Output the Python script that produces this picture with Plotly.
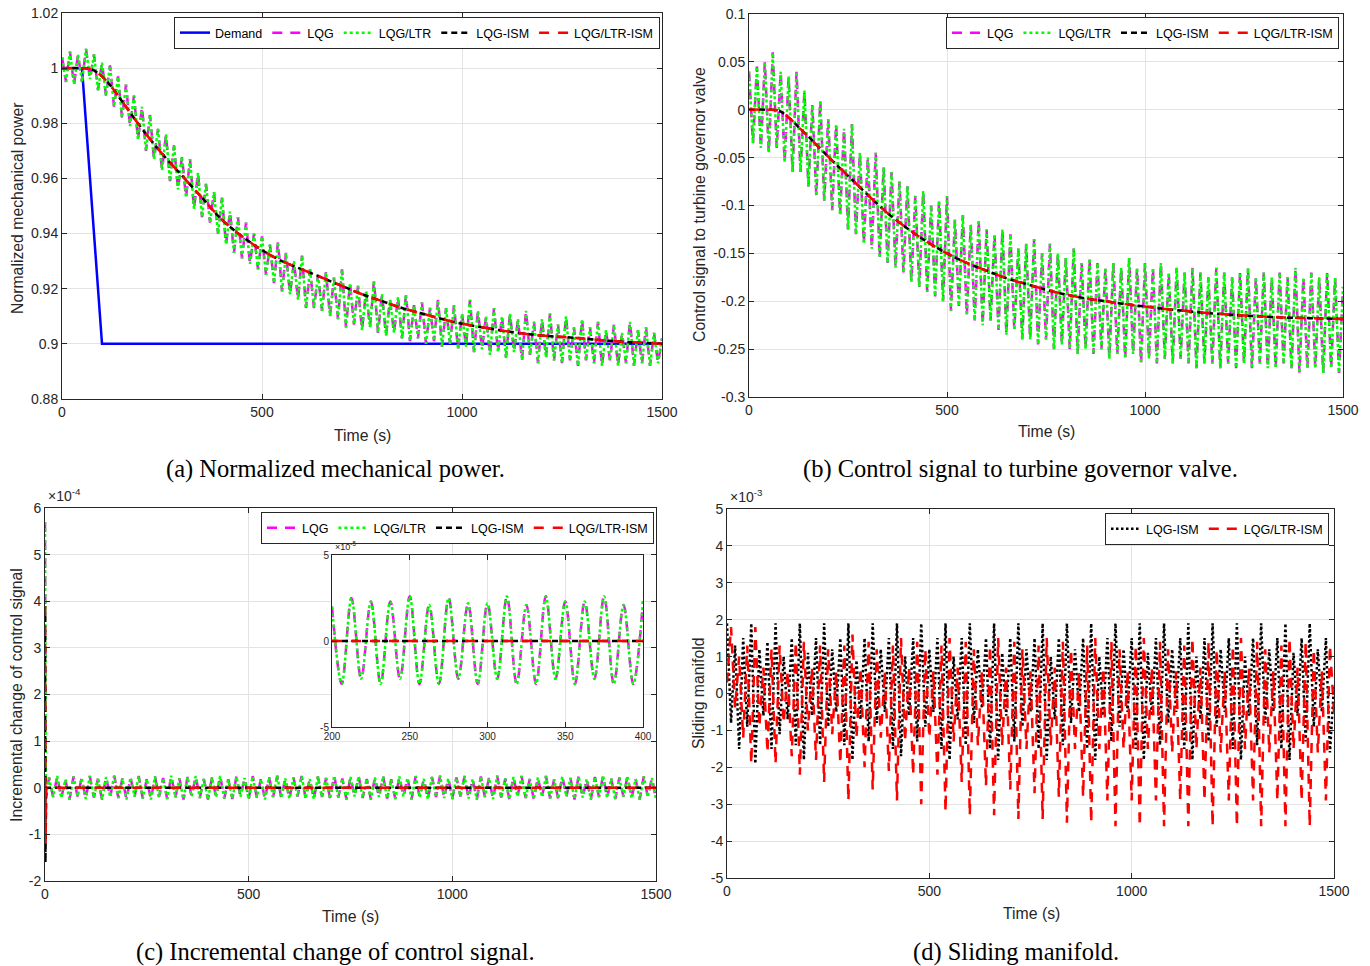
import plotly.graph_objects as go

# ---------------- data ----------------
t_step = 10
t10 = list(range(0, 1501, t_step))

demand_t = [0, 50, 100, 1500]
demand_v = [1.0, 1.0, 0.9, 0.9]

t_ism = [0, 50, 75, 100, 125, 150, 200, 250, 300, 350, 400, 450, 500, 550, 600, 650, 700,
         750, 800, 850, 900, 950, 1000, 1050, 1100, 1150, 1200, 1250, 1300, 1350, 1400, 1450, 1500]

ism_a = [1.000, 1.000, 0.9995, 0.997, 0.993, 0.988, 0.978, 0.969, 0.961, 0.953, 0.945, 0.939,
         0.934, 0.930, 0.927, 0.924, 0.921, 0.918, 0.9155, 0.913, 0.911, 0.909, 0.9073, 0.906,
         0.9048, 0.9038, 0.903, 0.9025, 0.902, 0.9013, 0.9008, 0.9004, 0.900]

lqg_a = [1.004, 0.995, 1.006, 0.994, 1.005, 0.995, 1.007, 0.996, 1.005, 0.992,
         1.002, 0.990, 1.001, 0.986, 0.997, 0.982, 0.994, 0.979, 0.990, 0.974,
         0.986, 0.970, 0.983, 0.967, 0.978, 0.963, 0.976, 0.959, 0.972, 0.956,
         0.968, 0.953, 0.967, 0.949, 0.962, 0.946, 0.958, 0.944, 0.955, 0.940,
         0.953, 0.936, 0.948, 0.933, 0.946, 0.931, 0.944, 0.929, 0.940, 0.927,
         0.939, 0.925, 0.936, 0.922, 0.937, 0.919, 0.933, 0.918, 0.930, 0.916,
         0.932, 0.913, 0.927, 0.913, 0.925, 0.912, 0.926, 0.910, 0.924, 0.909,
         0.927, 0.906, 0.922, 0.907, 0.921, 0.905, 0.919, 0.906, 0.923, 0.904,
         0.918, 0.903, 0.916, 0.904, 0.917, 0.902, 0.918, 0.901, 0.914, 0.902,
         0.915, 0.900, 0.913, 0.901, 0.916, 0.899, 0.913, 0.900, 0.914, 0.898,
         0.911, 0.899, 0.916, 0.897, 0.912, 0.898, 0.910, 0.896, 0.913, 0.897,
         0.910, 0.895, 0.911, 0.897, 0.909, 0.894, 0.912, 0.896, 0.908, 0.893,
         0.909, 0.895, 0.911, 0.894, 0.907, 0.893, 0.910, 0.894, 0.906, 0.892,
         0.909, 0.894, 0.906, 0.893, 0.908, 0.892, 0.905, 0.894, 0.907, 0.892,
         0.904, 0.893, 0.908, 0.892, 0.905, 0.893, 0.906, 0.892, 0.904, 0.893,
         0.902]
ltr_a = lqg_a  # LQG/LTR overlays LQG in the figure

ism_b = [0.0, 0.0, -0.001, -0.008, -0.018, -0.028, -0.049, -0.069, -0.089, -0.108, -0.124,
         -0.138, -0.150, -0.160, -0.168, -0.176, -0.182, -0.188, -0.193, -0.197, -0.200,
         -0.203, -0.2055, -0.208, -0.210, -0.212, -0.2135, -0.215, -0.216, -0.217, -0.2175,
         -0.218, -0.2185]

lqg_b = [0.040, -0.035, 0.045, -0.040, 0.050, -0.045, 0.060, -0.040, 0.040, -0.055,
         0.035, -0.065, 0.040, -0.065, 0.020, -0.080, 0.005, -0.090, 0.010, -0.095,
         -0.010, -0.105, -0.015, -0.110, -0.020, -0.125, -0.015, -0.130, -0.045, -0.140,
         -0.050, -0.145, -0.045, -0.155, -0.060, -0.160, -0.065, -0.165, -0.075, -0.170,
         -0.080, -0.180, -0.090, -0.185, -0.085, -0.190, -0.100, -0.195, -0.095, -0.200,
         -0.090, -0.210, -0.115, -0.205, -0.110, -0.215, -0.120, -0.220, -0.115, -0.225,
         -0.125, -0.220, -0.130, -0.230, -0.125, -0.235, -0.130, -0.230, -0.145, -0.240,
         -0.140, -0.240, -0.135, -0.245, -0.150, -0.240, -0.140, -0.250, -0.150, -0.245,
         -0.155, -0.250, -0.145, -0.255, -0.160, -0.250, -0.155, -0.255, -0.160, -0.250,
         -0.165, -0.260, -0.160, -0.255, -0.165, -0.260, -0.155, -0.255, -0.165, -0.265,
         -0.160, -0.260, -0.165, -0.265, -0.160, -0.260, -0.170, -0.265, -0.165, -0.260,
         -0.170, -0.265, -0.165, -0.270, -0.170, -0.265, -0.175, -0.265, -0.165, -0.270,
         -0.170, -0.265, -0.175, -0.270, -0.170, -0.265, -0.165, -0.270, -0.175, -0.265,
         -0.170, -0.270, -0.175, -0.270, -0.170, -0.265, -0.175, -0.270, -0.165, -0.275,
         -0.175, -0.270, -0.170, -0.270, -0.175, -0.275, -0.170, -0.270, -0.175, -0.275,
         -0.185]
ltr_b = lqg_b

# panel (c), values in units of 1e-4
t_c = [0, 2] + list(range(10, 1501, t_step))
lqg_c = [5.7, -0.2,
         0.22, -0.20, 0.25, -0.22, 0.18, -0.25, 0.24, -0.19, 0.21, -0.24,
         0.25, -0.21, 0.19, -0.25, 0.23, -0.20, 0.26, -0.22, 0.20, -0.25,
         0.22, -0.19, 0.25, -0.23, 0.19, -0.25, 0.24, -0.20, 0.21, -0.24,
         0.26, -0.21, 0.20, -0.25, 0.23, -0.19, 0.25, -0.22, 0.19, -0.25,
         0.22, -0.20, 0.25, -0.23, 0.18, -0.24, 0.24, -0.19, 0.21, -0.25,
         0.25, -0.21, 0.19, -0.25, 0.23, -0.20, 0.26, -0.22, 0.20, -0.24,
         0.22, -0.19, 0.25, -0.23, 0.19, -0.25, 0.24, -0.20, 0.21, -0.24,
         0.26, -0.21, 0.20, -0.25, 0.23, -0.19, 0.25, -0.22, 0.19, -0.25,
         0.22, -0.20, 0.25, -0.23, 0.18, -0.24, 0.24, -0.19, 0.21, -0.25,
         0.25, -0.21, 0.19, -0.25, 0.23, -0.20, 0.26, -0.22, 0.20, -0.24,
         0.22, -0.19, 0.25, -0.23, 0.19, -0.25, 0.24, -0.20, 0.21, -0.24,
         0.26, -0.21, 0.20, -0.25, 0.23, -0.19, 0.25, -0.22, 0.19, -0.25,
         0.22, -0.20, 0.25, -0.23, 0.18, -0.24, 0.24, -0.19, 0.21, -0.25,
         0.25, -0.21, 0.19, -0.25, 0.23, -0.20, 0.26, -0.22, 0.20, -0.24,
         0.22, -0.19, 0.25, -0.23, 0.19, -0.25, 0.24, -0.20, 0.21, -0.24]
ltr_c = lqg_c
ism_c_t = [0, 1, 3, 1500]
ism_c_black = [3.9, -1.6, 0.0, 0.0]
ism_c_red = [3.9, -1.2, 0.0, 0.0]

# inset of (c), values in units of 1e-5
inset_step = 6.25
inset_t = [200 + inset_step * k for k in range(33)]
inset_lqg = [2.0, -2.5, 2.5, -2.2, 2.3, -2.5, 2.3, -2.2, 2.6, -2.5, 2.1, -2.5, 2.5, -2.2,
             2.2, -2.5, 2.2, -2.2, 2.6, -2.5, 2.1, -2.5, 2.6, -2.2, 2.3, -2.5, 2.3, -2.2,
             2.6, -2.5, 2.1, -2.5, 2.3]
inset_ltr = inset_lqg
inset_ism_t = [200, 400]
inset_ism = [0.0, 0.0]

# panel (d), values in units of 1e-3
ism_d_black = [1.9, -0.8, 1.3, -1.5, 1.5, -0.9, 1.9, -1.9, 1.2, -0.6,
               1.4, -1.5, 1.9, -1.1, 1.0, -0.7, 1.5, -1.4, 1.9, -1.8,
               1.1, -0.6, 1.5, -1.4, 1.9, -0.9, 1.2, -0.5, 1.5, -1.4,
               1.9, -1.8, 0.9, -0.7, 1.5, -1.3, 1.9, -0.8, 1.2, -0.5,
               1.5, -1.5, 1.9, -1.7, 1.0, -0.6, 1.5, -1.3, 1.9, -0.9,
               1.2, -0.5, 1.5, -1.5, 1.9, -1.8, 1.0, -0.7, 1.5, -1.4,
               1.9, -0.8, 1.2, -0.4, 1.5, -1.5, 1.9, -1.8, 1.1, -0.6,
               1.5, -1.3, 1.9, -0.9, 1.2, -0.5, 1.5, -1.5, 1.9, -1.8,
               1.0, -0.7, 1.5, -1.4, 1.9, -0.8, 1.2, -0.5, 1.5, -1.5,
               1.9, -1.8, 1.0, -0.6, 1.5, -1.3, 1.9, -0.9, 1.2, -0.5,
               1.5, -1.5, 1.9, -1.8, 1.1, -0.6, 1.5, -1.4, 1.9, -0.8,
               1.2, -0.5, 1.5, -1.5, 1.9, -1.8, 1.0, -0.7, 1.5, -1.3,
               1.9, -0.9, 1.2, -0.5, 1.5, -1.5, 1.9, -1.8, 1.0, -0.6,
               1.5, -1.4, 1.9, -0.8, 1.2, -0.5, 1.5, -1.5, 1.9, -1.8,
               1.1, -0.6, 1.5, -1.3, 1.9, -0.9, 1.2, -0.5, 1.5, -1.6,
               0.2]
ism_d_red = [0.3, 1.8, -0.4, 1.0, -1.2, 1.3, -1.9, 1.8, -0.9, 0.7,
             -1.6, 1.2, -1.9, 1.3, -0.8, 0.6, -1.7, 1.4, -2.2, 1.4,
             -1.0, 0.7, -1.8, 1.3, -2.4, 1.2, -1.1, 0.6, -1.9, 1.3,
             -2.9, 1.6, -1.2, 0.7, -2.0, 1.4, -2.6, 1.2, -1.2, 0.6,
             -2.1, 1.3, -2.9, 1.5, -1.3, 0.7, -2.2, 1.4, -3.0, 1.2,
             -1.2, 0.6, -2.2, 1.3, -3.2, 1.5, -1.3, 0.7, -2.4, 1.4,
             -3.3, 1.2, -1.4, 0.6, -2.5, 1.3, -3.3, 1.5, -1.4, 0.7,
             -2.6, 1.4, -3.4, 1.2, -1.5, 0.6, -2.7, 1.3, -3.4, 1.5,
             -1.4, 0.7, -2.8, 1.4, -3.5, 1.2, -1.5, 0.6, -2.8, 1.3,
             -3.5, 1.5, -1.5, 0.7, -2.9, 1.4, -3.6, 1.2, -1.5, 0.6,
             -2.9, 1.3, -3.6, 1.5, -1.5, 0.7, -2.9, 1.4, -3.6, 1.2,
             -1.6, 0.6, -2.9, 1.3, -3.6, 1.5, -1.5, 0.7, -2.9, 1.4,
             -3.6, 1.2, -1.6, 0.6, -2.9, 1.3, -3.6, 1.5, -1.5, 0.7,
             -2.9, 1.4, -3.6, 1.2, -1.6, 0.6, -2.9, 1.3, -3.6, 1.5,
             -1.5, 0.7, -2.9, 1.4, -3.6, 1.2, -1.6, 0.6, -2.9, 1.3,
             -0.5]

# tick labels
x_ticks = [0, 500, 1000, 1500]
a_yticks = [0.88, 0.90, 0.92, 0.94, 0.96, 0.98, 1.00, 1.02]
a_ylabels = ["0.88", "0.9", "0.92", "0.94", "0.96", "0.98", "1", "1.02"]
b_yticks = [-0.3, -0.25, -0.2, -0.15, -0.1, -0.05, 0, 0.05, 0.1]
b_ylabels = ["-0.3", "-0.25", "-0.2", "-0.15", "-0.1", "-0.05", "0", "0.05", "0.1"]
c_yticks = [-2, -1, 0, 1, 2, 3, 4, 5, 6]
d_yticks = [-5, -4, -3, -2, -1, 0, 1, 2, 3, 4, 5]
in_xticks = [200, 250, 300, 350, 400]
in_yticks = [-5, 0, 5]

# ---------------- layout helpers ----------------
W, H = 1370, 966
AX = "#262626"
GRID = "#e3e3e3"
SANS = "Liberation Sans, Arial, sans-serif"
SERIF = "Liberation Serif, Times New Roman, serif"

# plot boxes in pixels: left, right, top, bottom
box_a = (62, 662, 13, 399)
box_b = (749, 1343, 14, 397)
box_c = (45, 656, 508, 881)
box_d = (727, 1334, 509, 878)
box_in = (332, 643, 555, 727)


def xdom(b):
    return [b[0] / W, b[1] / W]


def ydom(b):
    return [1 - b[3] / H, 1 - b[2] / H]


MAG = dict(color="#FF00FF", width=2.5, dash="10px,8px")
GRN = dict(color="#00FF00", width=2.5, dash="3px,3px")
BLK = dict(color="#000000", width=2.5, dash="6px,4px")
RED = dict(color="#FF0000", width=2.5, dash="10px,9px")

fig = go.Figure()

# (a)
fig.add_trace(go.Scatter(x=demand_t, y=demand_v, name="Demand", mode="lines",
                         line=dict(color="#0000FF", width=2.5), xaxis="x", yaxis="y", legend="legend"))
fig.add_trace(go.Scatter(x=t10, y=lqg_a, name="LQG", mode="lines", line=MAG,
                         xaxis="x", yaxis="y", legend="legend"))
fig.add_trace(go.Scatter(x=t10, y=ltr_a, name="LQG/LTR", mode="lines", line=GRN,
                         xaxis="x", yaxis="y", legend="legend"))
fig.add_trace(go.Scatter(x=t_ism, y=ism_a, name="LQG-ISM", mode="lines",
                         line=dict(BLK, shape="spline"), xaxis="x", yaxis="y", legend="legend"))
fig.add_trace(go.Scatter(x=t_ism, y=ism_a, name="LQG/LTR-ISM", mode="lines",
                         line=dict(RED, shape="spline"), xaxis="x", yaxis="y", legend="legend"))

# (b)
fig.add_trace(go.Scatter(x=t10, y=lqg_b, name="LQG", mode="lines", line=MAG,
                         xaxis="x2", yaxis="y2", legend="legend2"))
fig.add_trace(go.Scatter(x=t10, y=ltr_b, name="LQG/LTR", mode="lines", line=GRN,
                         xaxis="x2", yaxis="y2", legend="legend2"))
fig.add_trace(go.Scatter(x=t_ism, y=ism_b, name="LQG-ISM", mode="lines",
                         line=dict(BLK, shape="spline"), xaxis="x2", yaxis="y2", legend="legend2"))
fig.add_trace(go.Scatter(x=t_ism, y=ism_b, name="LQG/LTR-ISM", mode="lines",
                         line=dict(RED, shape="spline"), xaxis="x2", yaxis="y2", legend="legend2"))

# (c): white backdrop behind the inset (hides the main grid there), placed from the inset box
c_xr = [x_ticks[0], x_ticks[-1]]
c_yr = [c_yticks[0], c_yticks[-1]]
bx0 = c_xr[0] + (box_in[0] - box_c[0]) / (box_c[1] - box_c[0]) * (c_xr[1] - c_xr[0])
bx1 = c_xr[0] + (box_in[1] - box_c[0]) / (box_c[1] - box_c[0]) * (c_xr[1] - c_xr[0])
by0 = c_yr[0] + (box_c[3] - box_in[3]) / (box_c[3] - box_c[2]) * (c_yr[1] - c_yr[0])
by1 = c_yr[0] + (box_c[3] - box_in[2]) / (box_c[3] - box_c[2]) * (c_yr[1] - c_yr[0])
fig.add_trace(go.Scatter(x=[bx0, bx1, bx1, bx0, bx0], y=[by0, by0, by1, by1, by0], mode="lines",
                         fill="toself", fillcolor="white", line=dict(width=0), hoverinfo="skip",
                         showlegend=False, xaxis="x3", yaxis="y3"))

fig.add_trace(go.Scatter(x=t_c, y=lqg_c, name="LQG", mode="lines", line=MAG,
                         xaxis="x3", yaxis="y3", legend="legend3"))
fig.add_trace(go.Scatter(x=t_c, y=ltr_c, name="LQG/LTR", mode="lines", line=GRN,
                         xaxis="x3", yaxis="y3", legend="legend3"))
fig.add_trace(go.Scatter(x=ism_c_t, y=ism_c_black, name="LQG-ISM", mode="lines", line=BLK,
                         xaxis="x3", yaxis="y3", legend="legend3"))
fig.add_trace(go.Scatter(x=ism_c_t, y=ism_c_red, name="LQG/LTR-ISM", mode="lines", line=RED,
                         xaxis="x3", yaxis="y3", legend="legend3"))

# inset
fig.add_trace(go.Scatter(x=inset_t, y=inset_lqg, mode="lines", showlegend=False,
                         line=dict(MAG, shape="spline", smoothing=1.0), xaxis="x5", yaxis="y5"))
fig.add_trace(go.Scatter(x=inset_t, y=inset_ltr, mode="lines", showlegend=False,
                         line=dict(GRN, shape="spline", smoothing=1.0), xaxis="x5", yaxis="y5"))
fig.add_trace(go.Scatter(x=inset_ism_t, y=inset_ism, mode="lines", showlegend=False,
                         line=BLK, xaxis="x5", yaxis="y5"))
fig.add_trace(go.Scatter(x=inset_ism_t, y=inset_ism, mode="lines", showlegend=False,
                         line=RED, xaxis="x5", yaxis="y5"))

# (d)
fig.add_trace(go.Scatter(x=t10, y=ism_d_black, name="LQG-ISM", mode="lines",
                         line=dict(color="#000000", width=2.5, dash="2.5px,2.5px"),
                         xaxis="x4", yaxis="y4", legend="legend4"))
fig.add_trace(go.Scatter(x=t10, y=ism_d_red, name="LQG/LTR-ISM", mode="lines",
                         line=dict(color="#FF0000", width=2.5, dash="10px,8px"),
                         xaxis="x4", yaxis="y4", legend="legend4"))


def xax(box, anchor, tickvals, ticktext=None, size=14):
    return dict(domain=xdom(box), anchor=anchor, range=[tickvals[0], tickvals[-1]],
                tickmode="array", tickvals=tickvals,
                ticktext=ticktext if ticktext else [str(v) for v in tickvals],
                showline=True, linecolor=AX, linewidth=1, mirror="ticks",
                ticks="inside", ticklen=5, tickcolor=AX, showgrid=True, gridcolor=GRID,
                gridwidth=1, zeroline=False, tickfont=dict(family=SANS, size=size, color=AX))


def yax(box, anchor, tickvals, ticktext, size=14):
    return dict(domain=ydom(box), anchor=anchor, range=[tickvals[0], tickvals[-1]],
                tickmode="array", tickvals=tickvals, ticktext=ticktext,
                showline=True, linecolor=AX, linewidth=1, mirror="ticks",
                ticks="inside", ticklen=5, tickcolor=AX, showgrid=True, gridcolor=GRID,
                gridwidth=1, zeroline=False, tickfont=dict(family=SANS, size=size, color=AX))


def legend_at(right_px, top_px):
    return dict(x=right_px / W, y=1 - top_px / H, xanchor="right", yanchor="top",
                orientation="h", bgcolor="white", bordercolor=AX, borderwidth=1,
                font=dict(family=SANS, size=12.5, color="#000000"), itemwidth=30,
                tracegroupgap=0)


fig.update_layout(
    width=W, height=H, template="none",
    paper_bgcolor="white", plot_bgcolor="white",
    margin=dict(l=0, r=0, t=0, b=0),
    xaxis=xax(box_a, "y", x_ticks),
    yaxis=yax(box_a, "x", a_yticks, a_ylabels),
    xaxis2=xax(box_b, "y2", x_ticks),
    yaxis2=yax(box_b, "x2", b_yticks, b_ylabels),
    xaxis3=xax(box_c, "y3", x_ticks),
    yaxis3=yax(box_c, "x3", c_yticks, [str(v) for v in c_yticks]),
    xaxis4=xax(box_d, "y4", x_ticks),
    yaxis4=yax(box_d, "x4", d_yticks, [str(v) for v in d_yticks]),
    xaxis5=xax(box_in, "y5", in_xticks, size=10),
    yaxis5=yax(box_in, "x5", in_yticks, [str(v) for v in in_yticks], size=10),
    legend=legend_at(660, 17),
    legend2=legend_at(1339, 17),
    legend3=legend_at(654, 512),
    legend4=legend_at(1329, 513),
    showlegend=True,
)


def ann(text, xpx, ypx, size, family=SANS, angle=0, xanchor="center", yanchor="middle", color=AX):
    fig.add_annotation(text=text, x=xpx / W, y=1 - ypx / H, xref="paper", yref="paper",
                       showarrow=False, textangle=angle, xanchor=xanchor, yanchor=yanchor,
                       font=dict(family=family, size=size, color=color))


# axis titles
ann("Time (s)", 362, 435, 15.8)
ann("Time (s)", 1046, 432, 15.8)
ann("Time (s)", 350, 916, 15.8)
ann("Time (s)", 1031, 913, 15.8)
ann("Normalized mechanical power", 17, 208, 15.8, angle=-90)
ann("Control signal to turbine governor valve", 700, 205, 15.8, angle=-90)
ann("Incremental change of control signal", 16, 695, 15.8, angle=-90)
ann("Sliding manifold", 698, 693, 15.8, angle=-90)

# exponent labels
ann("\u00d710<sup>-4</sup>", 46, 506, 14, xanchor="left", yanchor="bottom")
ann("\u00d710<sup>-3</sup>", 728, 507, 14, xanchor="left", yanchor="bottom")
ann("\u00d710<sup>-5</sup>", 333, 554, 9, xanchor="left", yanchor="bottom")

# captions
ann("(a) Normalized mechanical power.", 335, 469, 24.5, family=SERIF, color="#000000")
ann("(b) Control signal to turbine governor valve.", 1021, 469, 24.5, family=SERIF, color="#000000")
ann("(c) Incremental change of control signal.", 335, 952, 24.5, family=SERIF, color="#000000")
ann("(d) Sliding manifold.", 1016, 952, 24.5, family=SERIF, color="#000000")

fig.write_html("out.html", config={"displayModeBar": False},
               post_script="document.body.style.margin='0';document.body.style.overflow='hidden';")
